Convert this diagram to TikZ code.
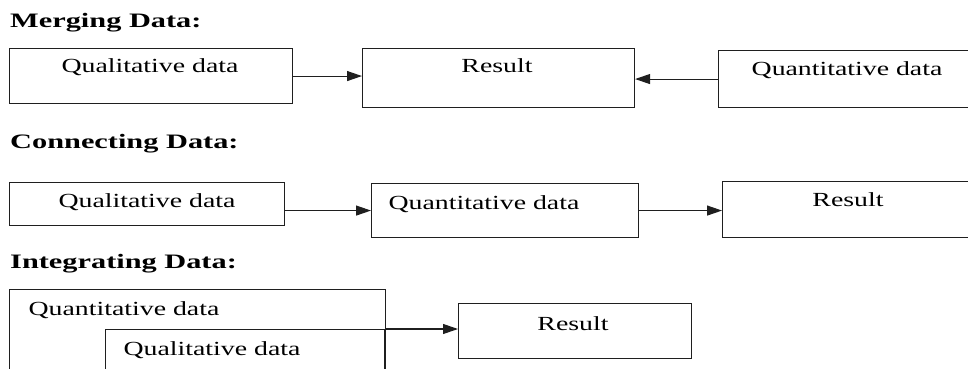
\documentclass[tikz,border=0pt]{standalone}
\usepackage{fontspec}
\setmainfont{Liberation Serif}
\newfontfamily\bodyfont[FakeStretch=1.39]{Liberation Serif}
\newfontfamily\headfont[FakeStretch=1.48]{Liberation Serif}
\usetikzlibrary{arrows.meta}
\begin{document}
\begin{tikzpicture}[x=1pt,y=-1pt,
  box/.style={draw=black!88,line width=1.1pt,rectangle,inner sep=0pt,anchor=north west},
  label/.style={inner sep=0pt,anchor=base,text=black,font=\bodyfont\fontsize{20pt}{24pt}\selectfont},
  heading/.style={inner sep=0pt,anchor=base west,text=black,font=\headfont\bfseries\fontsize{20.5pt}{24pt}\selectfont},
  link/.style={draw=black!88,line width=1.1pt,-{Triangle[length=15pt,width=10pt]}}]
\useasboundingbox (0,0) rectangle (968,369);
\clip (0,0) rectangle (968,369);

% Merging data
\node[heading] (hm) at (10,28) {Merging Data:};
\node[box,minimum width=283pt,minimum height=55pt] (mqual) at (9,48) {};
\node[box,minimum width=272pt,minimum height=59pt] (mres) at (362,48) {};
\node[box,minimum width=260pt,minimum height=57pt] (mquan) at (718,50) {};
\node[label] (tmqual) at (150,73) {Qualitative data};
\node[label] (tmres) at (497,73) {Result};
\node[label] (tmquan) at (847,75) {Quantitative data};
\draw[link] (mqual.east) -- (mqual.east -| mres.west);
\draw[link] (mquan.west) -- (mquan.west -| mres.east);

% Connecting data
\node[heading] (hc) at (10,148) {Connecting Data:};
\node[box,minimum width=275pt,minimum height=43pt] (cqual) at (9,182) {};
\node[box,minimum width=267pt,minimum height=54pt] (cquan) at (371,183) {};
\node[box,minimum width=260pt,minimum height=56pt] (cres) at (722,181) {};
\node[label] (tcqual) at (147,207) {Qualitative data};
\node[label] (tcquan) at (484,209) {Quantitative data};
\node[label] (tcres) at (848,206) {Result};
\draw[link] (cquan.west -| cqual.east) -- (cquan.west);
\draw[link] (cquan.east) -- (cquan.east -| cres.west);

% Integrating data: the qualitative box sits inside the quantitative one
\node[heading] (hi) at (10,268) {Integrating Data:};
\node[box,minimum width=376pt,minimum height=100pt] (iquan) at (9,289) {};
\node[box,minimum width=279pt,minimum height=60pt] (iqual) at (105,329) {};
\node[box,minimum width=233pt,minimum height=55pt] (ires) at (458,303) {};
\node[label] (tiquan) at (124,315) {Quantitative data};
\node[label] (tiqual) at (212,355) {Qualitative data};
\node[label] (tires) at (573,330) {Result};
\draw[link] (iqual.north east) -- (iqual.north east -| ires.west);
\end{tikzpicture}
\end{document}
